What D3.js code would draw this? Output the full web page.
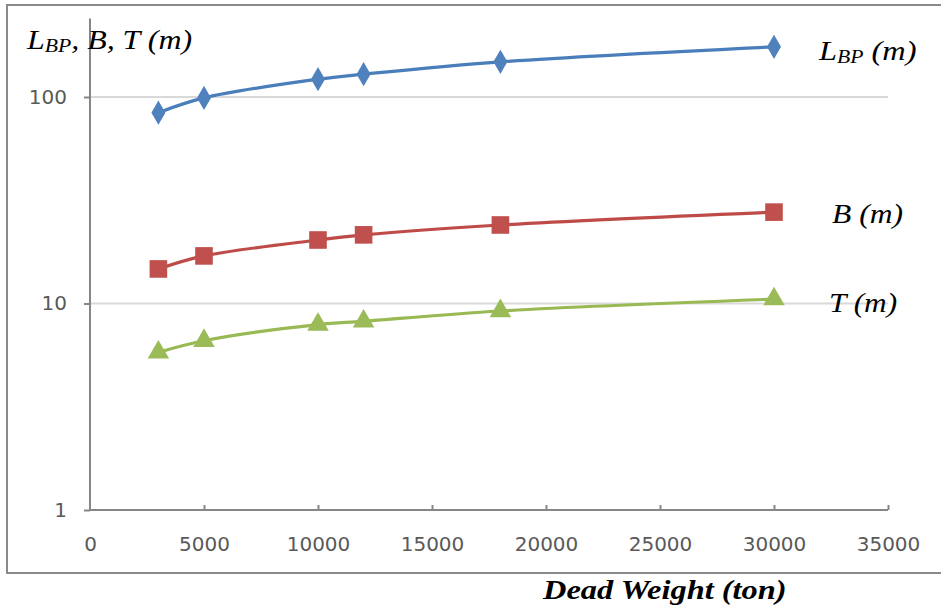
<!DOCTYPE html>
<html>
<head>
<meta charset="utf-8">
<script src="https://cdn.jsdelivr.net/npm/d3@7"></script>
<style>
  body { margin: 0; background: #fff; }
  svg { display: block; }
</style>
</head>
<body>
<svg id="chart" width="941" height="612"></svg>
<script>
// Data
const deadWeight = [3000, 5000, 10000, 12000, 18000, 30000];
const lbp = [84, 99, 122, 129, 148, 175];
const beam = [14.7, 17.0, 20.3, 21.5, 24.0, 27.7];
const draft = [5.8, 6.6, 7.9, 8.2, 9.2, 10.5];
const xTicks = [0, 5000, 10000, 15000, 20000, 25000, 30000, 35000];
const yTicks = [1, 10, 100];

const series = [
  { name: 'lbp', values: lbp, line: '#4a7ebb', fill: '#4f81bd', symbol: d3.symbolDiamond, size: 170 },
  { name: 'beam', values: beam, line: '#be4b48', fill: '#c0504d', symbol: d3.symbolSquare, size: 310 },
  { name: 'draft', values: draft, line: '#98b954', fill: '#9bbb59', symbol: d3.symbolTriangle, size: 200 }
];

const svg = d3.select('#chart');

// outer chart frame
svg.append('rect')
  .attr('x', 7).attr('y', 5)
  .attr('width', 945).attr('height', 568)
  .attr('fill', 'none')
  .attr('stroke', '#8a8a8a')
  .attr('stroke-width', 2);

const x = d3.scaleLinear().domain([0, 35000]).range([90, 888]);
const y = d3.scaleLog().domain([1, 100]).range([510, 97]);
const yTop = 240;

// gridlines
svg.append('g')
  .selectAll('line')
  .data(yTicks.filter(t => t > 1))
  .enter()
  .append('line')
    .attr('x1', x(0)).attr('x2', x(35000))
    .attr('y1', d => y(d)).attr('y2', d => y(d))
    .attr('stroke', '#d9d9d9')
    .attr('stroke-width', 2);

// y axis
const yAxis = svg.append('g')
  .attr('transform', `translate(${x(0)},0)`)
  .call(d3.axisLeft(y).tickValues(yTicks).tickFormat(d3.format('d')).tickSize(6).tickPadding(17));
yAxis.select('.domain').remove();
yAxis.append('line')
  .attr('x1', 0).attr('x2', 0)
  .attr('y1', y(yTop)).attr('y2', y(1))
  .attr('stroke', '#868686').attr('stroke-width', 2);

// x axis
const xAxis = svg.append('g')
  .attr('transform', `translate(0,${y(1)})`)
  .call(d3.axisBottom(x).tickValues(xTicks).tickFormat(d3.format('d')).tickSize(-5).tickPadding(27));
xAxis.select('.domain')
  .attr('d', `M${x(0)},0H${x(35000)}`)
  .attr('stroke', '#868686').attr('stroke-width', 2);

[xAxis, yAxis].forEach(ax => {
  ax.selectAll('.tick line').attr('stroke', '#868686').attr('stroke-width', 2);
  ax.selectAll('.tick text')
    .attr('fill', '#595959')
    .style('font-family', '"DejaVu Sans", sans-serif')
    .style('font-size', '20px');
});
xAxis.selectAll('.tick').filter(d => d === 0).select('line').remove();

// series lines and markers
const line = d3.line()
  .x((d, i) => x(deadWeight[i]))
  .y(d => y(d))
  .curve(d3.curveCatmullRom.alpha(0.5));

series.forEach(s => {
  svg.append('path')
    .attr('d', line(s.values))
    .attr('fill', 'none')
    .attr('stroke', s.line)
    .attr('stroke-width', 3.2);

  svg.append('g')
    .selectAll('path')
    .data(s.values)
    .enter()
    .append('path')
      .attr('transform', (d, i) => `translate(${x(deadWeight[i])},${y(d)})`)
      .attr('d', d3.symbol().type(s.symbol).size(s.size))
      .attr('fill', s.fill);
});

// serif italic labels (reference text is a little stretched sideways)
const serif = '"Liberation Serif", "Times New Roman", serif';

function label(px, py, size, sx) {
  return svg.append('text')
    .attr('transform', `translate(${px},${py}) scale(${sx},1)`)
    .style('font-family', serif)
    .style('font-style', 'italic')
    .style('font-size', size + 'px')
    .attr('fill', '#000');
}

function subLabel(px, py, main, sub, rest, size, sx) {
  const t = label(px, py, size, sx);
  t.append('tspan').text(main);
  t.append('tspan').attr('dy', 3).style('font-size', Math.round(size * 0.68) + 'px').text(sub);
  t.append('tspan').attr('dy', -3).text(rest);
}

subLabel(27, 49, 'L', 'BP', ', B, T (m)', 28, 1.14);
subLabel(819, 60, 'L', 'BP', ' (m)', 27, 1.2);
label(832, 223, 27, 1.17).text('B (m)');
label(829, 312, 27, 1.16).text('T (m)');
label(543, 599, 27, 1.2).style('font-weight', 'bold').text('Dead Weight (ton)');
</script>
</body>
</html>
